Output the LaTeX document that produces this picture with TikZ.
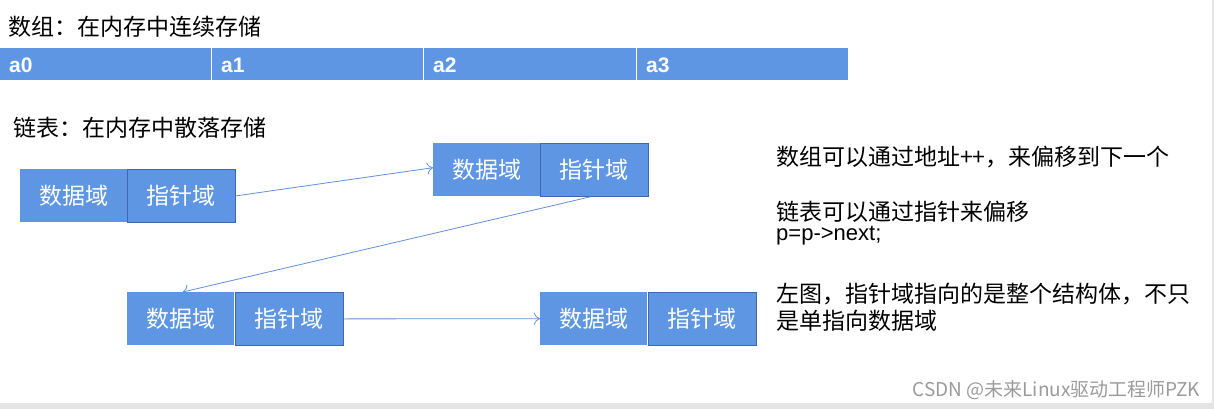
\documentclass[tikz,border=0pt]{standalone}
\usepackage{fontspec}
\setmainfont{Liberation Sans}
\newfontfamily\cjk{Noto Sans CJK SC}
\usetikzlibrary{arrows.meta}
\definecolor{cellblue}{RGB}{94,150,228}
\definecolor{edgeblue}{RGB}{62,104,172}
\definecolor{arrowblue}{RGB}{95,145,220}
\definecolor{wmgray}{RGB}{155,155,155}
\definecolor{bargray}{RGB}{228,228,228}
\tikzset{
  arr/.style={fill=cellblue, draw=white, line width=1.2pt, minimum height=33pt, inner sep=0pt, anchor=north west},
  arrlab/.style={font=\fontsize{21}{21}\selectfont\bfseries, text=white, anchor=west, inner sep=0pt},
  databox/.style={fill=cellblue, minimum width=107pt, minimum height=53pt, inner sep=0pt, anchor=north west,
    font=\cjk\fontsize{23}{23}\selectfont, text=white},
  ptrbox/.style={fill=cellblue, draw=edgeblue, line width=0.8pt, minimum width=108pt, minimum height=53pt, inner sep=0pt, anchor=north west,
    font=\cjk\fontsize{23}{23}\selectfont, text=white},
  link/.style={draw=arrowblue, line width=0.8pt, -{To[length=6pt,width=12pt]}},
  txt/.style={font=\cjk\fontsize{23}{23}\selectfont, anchor=west, inner sep=0pt},
}
\begin{document}
\begin{tikzpicture}[x=1pt,y=-1pt]
\useasboundingbox (0,0) rectangle (1214,409);
\fill[white] (0,0) rectangle (1214,409);
\fill[bargray] (0,403) rectangle (1214,409);
\fill[bargray] (1212,0) rectangle (1214,409);

\node[txt] (t1) at (8,27) {数组：在内存中连续存储};
\node[arr, minimum width=212pt] (c0) at (-1,47) {};
\node[arr, minimum width=212pt] (c1) at (211,47) {};
\node[arr, minimum width=213pt] (c2) at (423,47) {};
\node[arr, minimum width=212pt] (c3) at (636,47) {};
\node[arrlab] (l0) at (9,65) {a0};
\node[arrlab] (l1) at (221,65) {a1};
\node[arrlab] (l2) at (433,65) {a2};
\node[arrlab] (l3) at (646,65) {a3};

\node[txt] (t2) at (13,128) {链表：在内存中散落存储};

\node[databox] (d1) at (20,169) {数据域};
\node[ptrbox] (p1) at (127,169) {指针域};
\node[databox] (d2) at (433,143) {数据域};
\node[ptrbox] (p2) at (540,143) {指针域};
\node[databox] (d3) at (127,292) {数据域};
\node[ptrbox] (p3) at (235,292) {指针域};
\node[databox] (d4) at (540,292) {数据域};
\node[ptrbox] (p4) at (648,292) {指针域};

\draw[link] (p1.east) -- ([yshift=2pt]d2.west);
\draw[link] ([xshift=-4pt]p2.south) -- ([xshift=2pt]d3.north);
\draw[link] (p3.east) -- (d4.west);

\node[txt] (r1) at (776,157) {数组可以通过地址++，来偏移到下一个};
\node[txt] (r2) at (776,212) {链表可以通过指针来偏移};
\node[font=\fontsize{22}{22}\selectfont, anchor=west, inner sep=0pt] (r3) at (776,236) {p=p->next;};
\node[txt] (r4) at (776,294) {左图，指针域指向的是整个结构体，不只};
\node[txt] (r5) at (776,321) {是单指向数据域};

\node[font=\cjk\fontsize{19}{19}\selectfont, text=wmgray, anchor=east, inner sep=0pt] (wm) at (1200,390) {CSDN @未来Linux驱动工程师PZK};
\end{tikzpicture}
\end{document}
